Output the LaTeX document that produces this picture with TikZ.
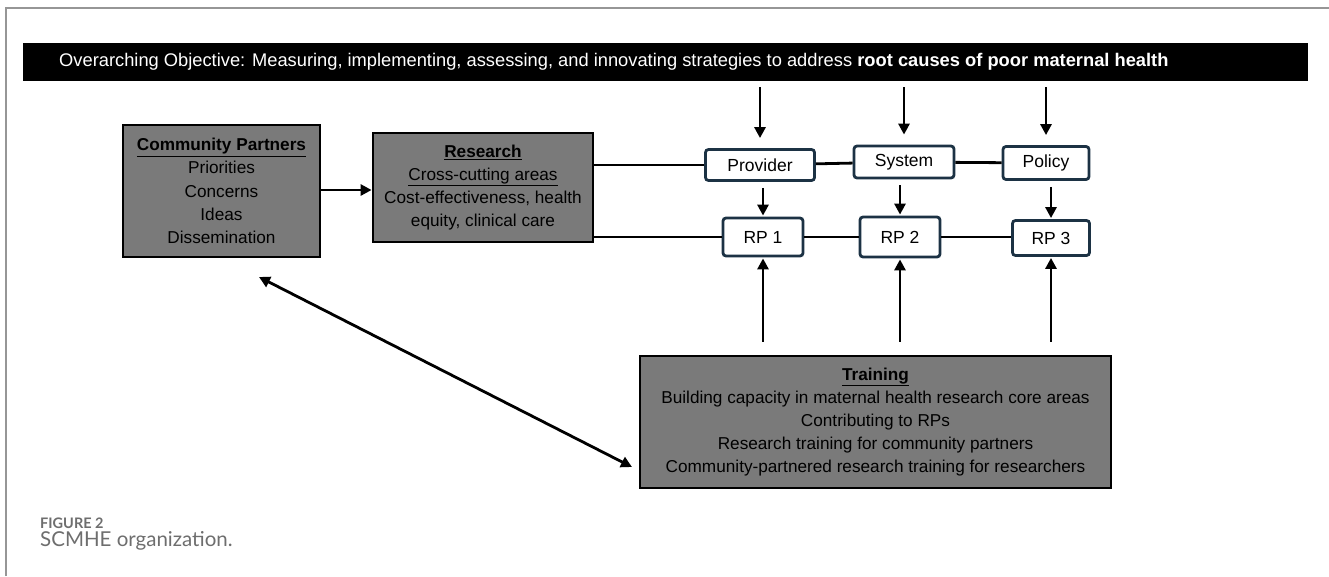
\documentclass[tikz,border=0pt]{standalone}
\usepackage{fontspec}
\setmainfont{Liberation Sans}
\newfontfamily\capfont{Lato}
\usetikzlibrary{arrows.meta}
\definecolor{boxgray}{RGB}{122,122,122}
\definecolor{rpblue}{RGB}{28,50,68}
\definecolor{capgray}{RGB}{110,110,110}
\definecolor{framegray}{RGB}{150,150,150}
\tikzset{
  bigbox/.style={draw=black, line width=2.8pt, fill=boxgray, align=center, inner sep=0pt,
    font=\fontsize{17.2}{23.2}\selectfont},
  smallbox/.style={draw=rpblue, line width=2.8pt, fill=white, rounded corners=3pt, inner sep=0pt,
    font=\fontsize{17.5}{20}\selectfont},
  link/.style={line width=2.8pt, black},
  arr/.style={line width=2.8pt, black, -{Triangle[length=11pt,width=11pt]}},
  darr/.style={line width=2.8pt, black, {Triangle[length=11pt,width=11pt]}-{Triangle[length=11pt,width=11pt]}},
}
\begin{document}
\begin{tikzpicture}[x=1pt,y=-1pt]
\useasboundingbox (0,0) rectangle (1329,576);
\fill[white] (0,0) rectangle (1329,576);
% frame
\draw[framegray, line width=1.5pt] (6,576) -- (6,8) -- (1329,8);
% objective bar
\node[fill=black, minimum width=1285, minimum height=38, inner sep=0pt] (bar) at (665.5,62) {};
\node[anchor=west, inner sep=0pt, text=white, font=\fontsize{18.3}{20}\selectfont] (bartext) at (59,62)
  {Overarching Objective: Measuring, implementing, assessing, and innovating strategies to address \textbf{root causes of poor maternal health}};
% big boxes
\node[bigbox, minimum width=197, minimum height=132] (cp) at (221.5,191)
  {\textbf{\underline{Community Partners}}\\Priorities\\Concerns\\Ideas\\Dissemination};
\node[bigbox, minimum width=220, minimum height=109] (res) at (483,187.5)
  {\textbf{\underline{Research}}\\\underline{Cross-cutting areas}\\Cost-effectiveness, health\\equity, clinical care};
\node[bigbox, minimum width=471, minimum height=132] (tr) at (875.5,422)
  {\textbf{\underline{Training}}\\Building capacity in maternal health research core areas\\Contributing to RPs\\Research training for community partners\\Community-partnered research training for researchers};
% small boxes
\node[smallbox, minimum width=109, minimum height=31] (prov) at (760,165) {Provider};
\node[smallbox, minimum width=100, minimum height=32] (sys) at (904,162) {System};
\node[smallbox, minimum width=86, minimum height=33] (pol) at (1046,163) {Policy};
\node[smallbox, minimum width=80, minimum height=38] (rp1) at (763,237) {RP 1};
\node[smallbox, minimum width=80, minimum height=40] (rp2) at (900,237) {RP 2};
\node[smallbox, minimum width=77, minimum height=35] (rp3) at (1051,238) {RP 3};
% horizontal links
\draw[link] (res.east |- prov) -- (prov.west);
\draw[link] (prov) -- (sys);
\draw[link] (sys) -- (pol);
\draw[link] (res.east |- rp1) -- (rp1.west);
\draw[link] (rp1) -- (rp2);
\draw[link] (rp2) -- (rp2 -| rp3.west);
% cp -> research
\draw[arr] (cp.east |- 0,190) -- (res.west |- 0,190);
% bar -> level boxes
\draw[arr, shorten <=6pt, shorten >=10pt] (bar.south -| prov) -- (prov.north);
\draw[arr, shorten <=6pt, shorten >=10pt] (bar.south -| sys) -- (sys.north);
\draw[arr, shorten <=6pt, shorten >=10pt] (bar.south -| pol) -- (pol.north);
% level boxes -> RPs
\draw[arr, shorten <=6pt, shorten >=1pt] (prov.south -| rp1) -- (rp1.north);
\draw[arr, shorten <=6pt, shorten >=1pt] (sys.south -| rp2) -- (rp2.north);
\draw[arr, shorten <=6pt, shorten >=1pt] (pol.south -| rp3) -- (rp3.north);
% training -> RPs
\draw[arr, shorten <=13pt, shorten >=1pt] (tr.north -| rp1) -- (rp1.south);
\draw[arr, shorten <=13pt, shorten >=1pt] (tr.north -| rp2) -- (rp2.south);
\draw[arr, shorten <=13pt, shorten >=1pt] (tr.north -| rp3) -- (rp3.south);
% double arrow
\coordinate (dA) at (259,277);
\coordinate (dB) at (632,467);
\draw[darr] (dA) -- (dB);
% caption
\node[anchor=base west, inner sep=0pt, text=capgray, font=\capfont\bfseries\fontsize{14.5}{16}\selectfont] (figlab) at (40,528) {FIGURE 2};
\node[anchor=base west, inner sep=0pt, text=capgray, font=\capfont\fontsize{20.5}{22}\selectfont] (figcap) at (40,546) {SCMHE organization.};
\end{tikzpicture}
\end{document}
